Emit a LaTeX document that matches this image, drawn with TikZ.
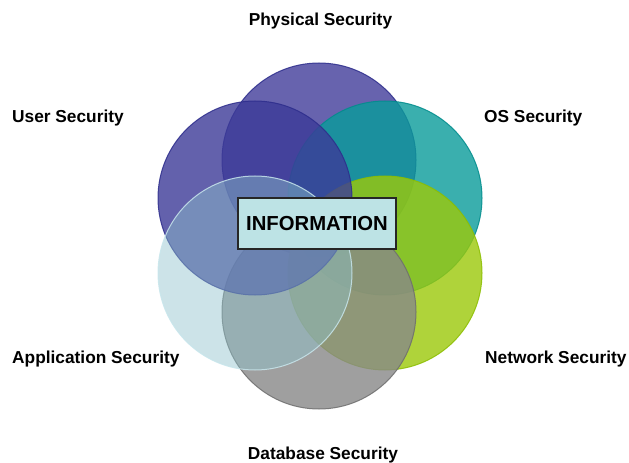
\documentclass[tikz,border=0pt]{standalone}
\usepackage{fontspec}
\setmainfont{Liberation Sans}
\begin{document}
\begin{tikzpicture}[x=1bp,y=-1bp,
  ring/.style={line width=1bp, fill opacity=0.8, draw opacity=0.85},
  lbl/.style={font=\fontsize{17.3bp}{20bp}\selectfont\bfseries, inner sep=0pt},
  infobox/.style={draw=black!85, line width=1.4bp, fill={rgb,255:red,189;green,227;blue,229},
    minimum width=158bp, minimum height=51bp, inner sep=0pt,
    font=\fontsize{20.3bp}{24bp}\selectfont\bfseries}]
\definecolor{cPhys}{RGB}{65,61,154}
\definecolor{cPhysB}{RGB}{45,45,140}
\definecolor{cUser}{RGB}{60,58,152}
\definecolor{cOS}{RGB}{9,156,154}
\definecolor{cOSB}{RGB}{0,140,140}
\definecolor{cNet}{RGB}{156,201,9}
\definecolor{cNetB}{RGB}{140,190,0}
\definecolor{cDb}{RGB}{136,136,136}
\definecolor{cDbB}{RGB}{110,110,110}
\definecolor{cApp}{RGB}{142,195,204}
\definecolor{cAppB}{RGB}{200,230,236}
\useasboundingbox (0,0) rectangle (629,463);
\coordinate (cphys) at (319,160);
\coordinate (cuser) at (255,198);
\coordinate (cos) at (385,198);
\coordinate (cnet) at (385,273);
\coordinate (cdb) at (319,312);
\coordinate (capp) at (255,273);
\fill[white] (0,0) rectangle (629,463);
\draw[ring, fill=cPhys, draw=cPhysB] (cphys) circle[radius=97];
\draw[ring, fill=cOS, draw=cOSB] (cos) circle[radius=97];
\draw[ring, fill=cNet, draw=cNetB] (cnet) circle[radius=97];
\draw[ring, fill=cDb, draw=cDbB] (cdb) circle[radius=97];
\draw[ring, fill=cUser, draw=cPhysB] (cuser) circle[radius=97];
\draw[ring, fill=cApp, fill opacity=0.45, draw=cAppB] (capp) circle[radius=97];
\node[infobox] (info) at (317,223.5) {INFORMATION};
\node[lbl] (phys) at (320.5,21) {Physical Security};
\node[lbl, anchor=west] (user) at (12,118) {User Security};
\node[lbl, anchor=west] (os) at (484,118) {OS Security};
\node[lbl, anchor=west] (app) at (12,359) {Application Security};
\node[lbl, anchor=west] (net) at (485,359) {Network Security};
\node[lbl] (db) at (323,455) {Database Security};
\end{tikzpicture}
\end{document}
